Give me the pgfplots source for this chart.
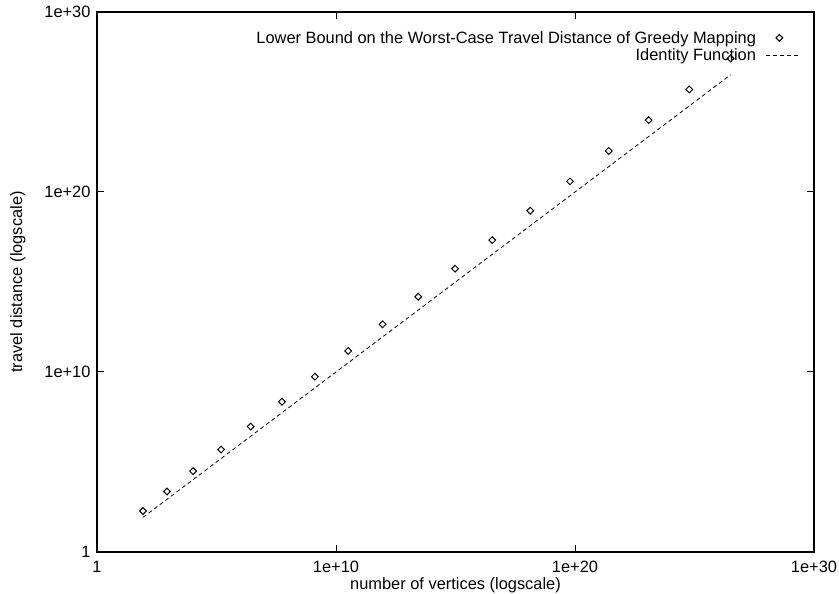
\documentclass[border=0pt]{standalone}
\usepackage{fontspec}
\setmainfont{Liberation Sans}
\usepackage{pgfplots}
\pgfplotsset{compat=1.18}
\usepackage{pgfplotstable}
\pgfplotstableread{
x y
8.41e1 1.905e2
8.51e2 2.29e3
1.047e4 3.09e4
1.549e5 4.90e5
2.69e6 9.33e6
5.50e7 2.24e8
1.318e9 5.50e9
3.24e10 1.479e11
8.91e11 4.47e12
2.75e13 1.514e14
9.55e14 5.50e15
3.47e16 2.14e17
1.349e18 9.12e18
6.17e19 3.89e20
2.57e21 1.905e22
1.202e23 9.77e23
6.03e24 5.01e25
3.24e26 2.63e27
}\greedy
\begin{document}
\begin{tikzpicture}
\begin{axis}[
  scale only axis, width=717pt, height=540pt,
  xmode=log, ymode=log,
  xmin=1, xmax=1e30, ymin=1, ymax=1e30,
  xtick={1,1e10,1e20,1e30}, xticklabels={1,1e+10,1e+20,1e+30},
  ytick={1,1e10,1e20,1e30}, yticklabels={1,1e+10,1e+20,1e+30},
  xminorticks=false, yminorticks=false,
  major tick length=7pt,
  tick align=inside,
  axis line style={line width=1.3pt},
  every tick/.style={line width=1pt, black},
  font=\fontsize{16.4}{19}\selectfont,
  xticklabel style={yshift=-6pt},
  yticklabel style={xshift=-3pt},
  xlabel={number of vertices (logscale)},
  ylabel={travel distance (logscale)},
  xlabel style={yshift=2pt},
  ylabel style={yshift=12pt},
  legend plot pos=right,
  legend cell align=right,
  legend style={draw=none, fill=none, at={(1,1)}, xshift=-14pt, yshift=-17pt,
    anchor=north east, font=\fontsize{16.4}{19}\selectfont, row sep=0pt,
    column sep=8pt, inner sep=0pt},
]
\addplot[only marks, mark=square, mark size=2.4pt, mark options={rotate=45, line width=1pt, black},
  legend image code/.code={\path[draw=none] plot[mark=square, mark size=2.4pt, mark options={rotate=45, draw=black, line width=1pt}] coordinates {(13pt,0pt)};}]
  table[x=x, y=y] {\greedy};
\addlegendentry{Lower Bound on the Worst-Case Travel Distance of Greedy Mapping}
\addplot[black, line width=0.8pt, dash pattern=on 4pt off 3pt, no marks,
  legend image code/.code={\draw[black, line width=0.8pt, dash pattern=on 4pt off 3pt] (0pt,0pt) -- (33pt,0pt);}]
  table[x=x, y=x] {\greedy};
\addlegendentry{Identity Function}
\end{axis}
\pgfresetboundingbox
\path ([xshift=-97pt,yshift=-42pt]current axis.south west) rectangle ([xshift=25pt,yshift=12pt]current axis.north east);
\end{tikzpicture}
\end{document}
